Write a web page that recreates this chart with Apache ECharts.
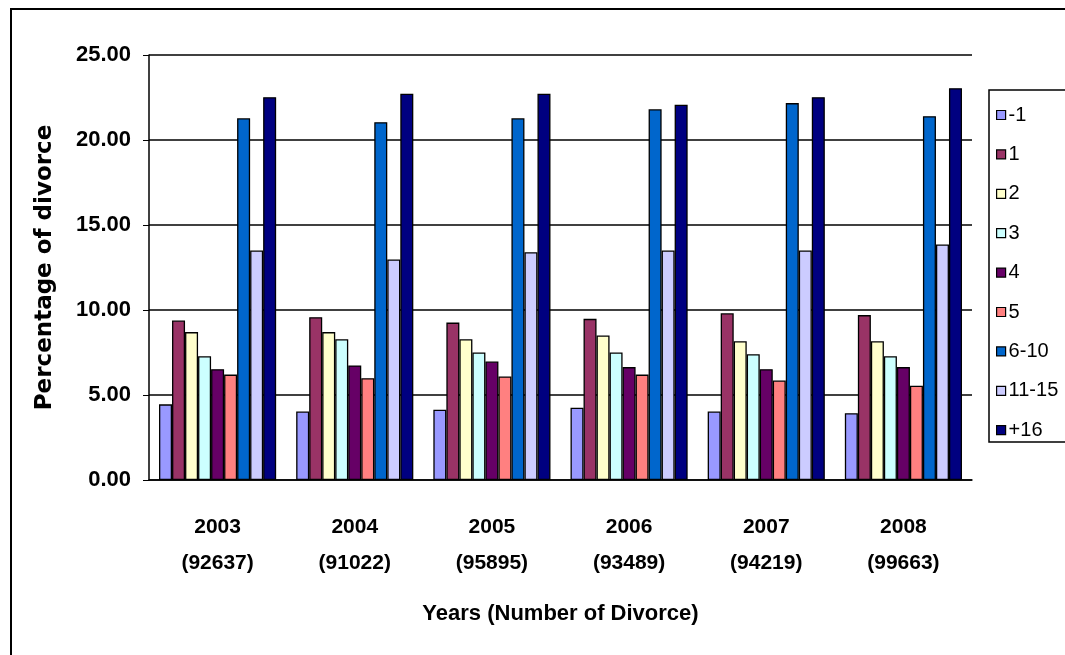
<!DOCTYPE html>
<html>
<head>
<meta charset="utf-8">
<script src="https://cdn.jsdelivr.net/npm/echarts@6/dist/echarts.min.js"></script>
<style>
  html, body { margin: 0; padding: 0; background: #fff; }
  #chart { width: 1065px; height: 655px; }
</style>
</head>
<body>
<div id="chart"></div>
<script>
// Years and total number of divorces per year
const years = ['2003', '2004', '2005', '2006', '2007', '2008'];
const divorceCounts = ['92637', '91022', '95895', '93489', '94219', '99663'];

// Duration-of-marriage groups
const groups = ['-1', '1', '2', '3', '4', '5', '6-10', '11-15', '+16'];

// Percentage of divorce per group, one value per year
const pctUnder1 = [4.45, 4.03, 4.13, 4.25, 4.03, 3.93];
const pct1 = [9.38, 9.58, 9.26, 9.48, 9.81, 9.70];
const pct2 = [8.70, 8.70, 8.28, 8.50, 8.16, 8.16];
const pct3 = [7.28, 8.28, 7.50, 7.50, 7.40, 7.28];
const pct4 = [6.52, 6.74, 6.97, 6.64, 6.52, 6.64];
const pct5 = [6.20, 5.99, 6.09, 6.20, 5.85, 5.54];
const pct6to10 = [21.28, 21.05, 21.28, 21.81, 22.17, 21.40];
const pct11to15 = [13.50, 12.97, 13.40, 13.50, 13.50, 13.85];
const pct16plus = [22.52, 22.72, 22.72, 22.07, 22.52, 23.05];

const groupValues = [pctUnder1, pct1, pct2, pct3, pct4, pct5, pct6to10, pct11to15, pct16plus];
const groupColors = ['#9999FF', '#993366', '#FFFFCC', '#CCFFFF', '#660066', '#FF8080', '#0066CC', '#CCCCFF', '#000080'];

// Y axis ticks
const yMin = 0, yMax = 25, yStep = 5;

const categories = years.map((y, i) => y + '\n(' + divorceCounts[i] + ')');

const sans = "'Liberation Sans', Arial, sans-serif";

const chart = echarts.init(document.getElementById('chart'), null, { renderer: 'canvas' });

chart.setOption({
  animation: false,
  backgroundColor: '#ffffff',
  graphic: [
    // frame around the whole chart
    { type: 'rect', shape: { x: 11, y: 9, width: 1200, height: 800 },
      style: { fill: 'none', stroke: '#000', lineWidth: 2 }, z: 0 },
    // legend box, open to the right edge
    { type: 'rect', shape: { x: 989, y: 90, width: 200, height: 352 },
      style: { fill: '#fff', stroke: '#000', lineWidth: 1.5 }, z: 1 }
  ],
  grid: { left: 149, right: 93, top: 55, bottom: 175 },
  legend: {
    orient: 'vertical',
    left: 991,
    top: 100,
    itemWidth: 9,
    itemHeight: 9,
    itemGap: 19.4,
    icon: 'rect',
    z: 5,
    itemStyle: { borderColor: '#000', borderWidth: 1.2 },
    textStyle: { fontFamily: sans, fontSize: 20, color: '#000', lineHeight: 20, padding: [0, 0, 0, -2] },
    data: groups
  },
  xAxis: {
    type: 'category',
    data: categories,
    axisLine: { lineStyle: { color: '#000', width: 1.5 } },
    axisTick: { length: 8, lineStyle: { color: '#000', width: 1 } },
    axisLabel: {
      margin: 29,
      fontFamily: sans,
      fontWeight: 'bold',
      fontSize: 21,
      lineHeight: 36,
      color: '#000'
    },
    name: 'Years (Number of Divorce)',
    nameLocation: 'middle',
    nameGap: 123,
    nameTextStyle: { fontFamily: sans, fontWeight: 'bold', fontSize: 22, color: '#000' }
  },
  yAxis: {
    type: 'value',
    min: yMin,
    max: yMax,
    interval: yStep,
    axisLine: { show: true, lineStyle: { color: '#000', width: 1.5 } },
    axisTick: { show: true, length: 6, lineStyle: { color: '#000' } },
    splitLine: { lineStyle: { color: '#000', width: 1.5 } },
    axisLabel: {
      margin: 18,
      fontFamily: sans,
      fontWeight: 'bold',
      fontSize: 22,
      color: '#000',
      formatter: v => v.toFixed(2)
    },
    name: 'Percentage of divorce',
    nameLocation: 'middle',
    nameGap: 92,
    nameTextStyle: { fontFamily: "'DejaVu Sans', sans-serif", fontWeight: 'bold', fontSize: 23, color: '#000' }
  },
  series: groups.map((g, i) => ({
    name: g,
    type: 'bar',
    data: groupValues[i],
    barGap: '0%',
    barCategoryGap: '14.6%',
    itemStyle: { color: groupColors[i], borderColor: '#000', borderWidth: 1.3 }
  }))
});
</script>
</body>
</html>
